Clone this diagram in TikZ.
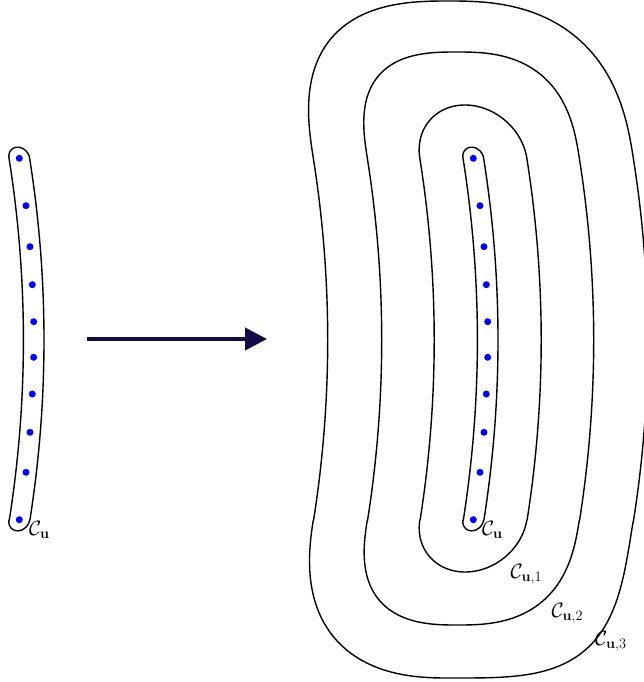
\documentclass[tikz,border=0pt]{standalone}
\usetikzlibrary{arrows.meta}
\definecolor{arrownavy}{RGB}{20,10,70}
% #1 xshift, #2 half width, #3 top cap height, #4 bottom cap height, #5-#8 exponents TR, BR, BL, TL
\newcommand{\blobcurve}[8]{%
\draw[contour,xshift=#1pt]
 plot[domain=89.9:0.1,samples=60] ({473.3-0.158*(#3)*pow(sin(\x),2/#5)+(#2)*pow(cos(\x),2/#5)}, {158-(#3)*pow(sin(\x),2/#5)})
 -- plot[domain=158:520,samples=60] ({487.7-(0.020857*(\x-340))^2+(#2)}, {\x})
 -- plot[domain=0.1:89.9,samples=60] ({473.3-0.157*(#4)*pow(sin(\x),2/#6)+(#2)*pow(cos(\x),2/#6)}, {520+(#4)*pow(sin(\x),2/#6)})
 -- plot[domain=89.9:0.1,samples=60] ({473.3-0.157*(#4)*pow(sin(\x),2/#7)-(#2)*pow(cos(\x),2/#7)}, {520+(#4)*pow(sin(\x),2/#7)})
 -- plot[domain=520:158,samples=60] ({487.7-(0.020857*(\x-340))^2-(#2)}, {\x})
 -- plot[domain=0.1:89.9,samples=60] ({473.3-0.158*(#3)*pow(sin(\x),2/#8)-(#2)*pow(cos(\x),2/#8)}, {158-(#3)*pow(sin(\x),2/#8)})
 -- cycle;}
\begin{document}
\begin{tikzpicture}[x=1pt,y=-1pt,
  contour/.style={draw=black,line width=1.4pt,line join=round},
  bluedot/.style={circle,fill=blue,inner sep=0pt,minimum size=7pt},
  lbl/.style={anchor=base west,inner sep=0pt,font=\fontsize{22}{26}\selectfont},
  bigarrow/.style={draw=arrownavy,line width=4pt,-{Triangle[length=22pt,width=22pt]}}]
\useasboundingbox (0,0) rectangle (643,682);

% inner loops
\blobcurve{-454}{10.3}{10.8}{10.8}{2}{2}{2}{2}
\blobcurve{0}{10.3}{10.8}{10.8}{2}{2}{2}{2}
% level curves
\blobcurve{0}{53.5}{53}{52}{2}{2}{2}{2}
\blobcurve{0}{106}{106}{105}{2.7}{2.7}{2.6}{2.7}
\blobcurve{0}{160}{157}{158}{2.6}{3.6}{2.4}{2.6}

% blue points
\foreach \i/\px/\py in {1/19.3/158.3, 2/26/205.7, 3/30/246.7, 4/32.3/284.7, 5/33.7/321.7,
  6/33.7/357.3, 7/32.3/394, 8/30/432.3, 9/26/472.3, 10/19.3/519.7}{
  \node[bluedot] (L\i) at (\px,\py) {};
  \node[bluedot] (R\i) at (\px+454,\py) {};
}

% labels
\node[lbl] (labL) at (29,535) {$\mathcal{C}_{\mathbf{u}}$};
\node[lbl] (labR) at (482,535) {$\mathcal{C}_{\mathbf{u}}$};
\node[lbl] (lab1) at (510.5,578) {$\mathcal{C}_{\mathbf{u},1}$};
\node[lbl] (lab2) at (551.5,617) {$\mathcal{C}_{\mathbf{u},2}$};
\node[lbl] (lab3) at (595,645) {$\mathcal{C}_{\mathbf{u},3}$};

% arrow
\coordinate (arrS) at (87,339);
\coordinate (arrE) at (267,339);
\draw[bigarrow] (arrS) -- (arrE);
\end{tikzpicture}
\end{document}
